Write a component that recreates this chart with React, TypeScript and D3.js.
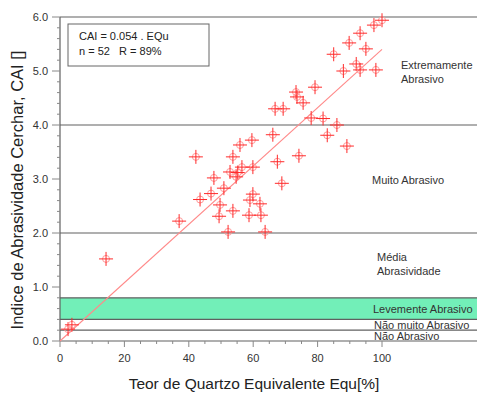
import React from "react";
import * as d3 from "d3";

// quartz equivalent (%) vs CAI
const equ = [
  2.5, 3.7, 14.3, 37, 42.2, 43.5, 46.9, 47.8, 49.4, 49.7, 50.9, 52.2, 52.8,
  53.7, 53.7, 54.7, 55.9, 56.5, 58.7, 59.0, 59.6, 59.9, 59.9, 62.1, 62.4, 63.7,
  66.1, 66.8, 67.5, 68.9, 69.3, 73.3, 73.6, 74.2, 75.5, 78, 79.2, 81.7, 83, 85,
  86, 88, 89.1, 89.8, 92, 93.2, 93.2, 95, 97.5, 98.1, 100, 55.2,
];
const cai = [
  0.22, 0.3, 1.52, 2.22, 3.41, 2.62, 2.73, 3.02, 2.31, 2.52, 2.83, 2.02, 3.13,
  3.41, 2.41, 3.04, 3.63, 3.22, 2.33, 2.61, 3.72, 3.22, 2.72, 2.54, 2.33, 2.02,
  3.82, 4.3, 3.32, 2.92, 4.3, 4.61, 4.52, 3.43, 4.41, 4.13, 4.7, 4.12, 3.81,
  5.31, 4.0, 5.0, 3.61, 5.52, 5.13, 5.7, 5.02, 5.41, 5.85, 5.02, 5.94, 3.12,
];
const slope = 0.054;

const xTicks = [0, 20, 40, 60, 80, 100];
const yTicks = [0, 1, 2, 3, 4, 5, 6];
const classLines = [0, 0.2, 0.4, 0.8, 2, 4, 6];
const band = [0.4, 0.8];

const zones = [
  { lines: ["Extremamente", "Abrasivo"], x: 401, v: 5.12 },
  { lines: ["Muito Abrasivo"], x: 372, v: 2.98 },
  { lines: ["Média", "Abrasividade"], x: 377, v: 1.55 },
  { lines: ["Levemente Abrasivo"], x: 373, v: 0.6 },
  { lines: ["Não muito Abrasivo"], x: 374, v: 0.3 },
  { lines: ["Não Abrasivo"], x: 374, v: 0.09 },
];

export default function App() {
  const W = 478, H = 394;
  const x = d3.scaleLinear().domain([0, 100]).range([60, 382]);
  const y = d3.scaleLinear().domain([0, 6]).range([341, 17]);
  const right = 477;
  const minorY = d3.range(0, 6.01, 0.2);
  const minorX = d3.range(0, 100.1, 5);
  const lineGray = "#606060";
  const red = "#ff2b2b";

  return (
    <svg
      width={W}
      height={H}
      style={{ position: "absolute", left: 0, top: 0, background: "#fff" }}
      fontFamily="Liberation Sans, Arial, sans-serif"
    >
      <rect
        x={x(0)}
        y={y(band[1])}
        width={right - x(0)}
        height={y(band[0]) - y(band[1])}
        fill="#72efb8"
      />
      {classLines.map((v) => (
        <line key={v} x1={x(0)} x2={right} y1={y(v)} y2={y(v)} stroke={lineGray} strokeWidth={1.2} />
      ))}
      <line x1={x(0)} x2={x(0)} y1={y(0)} y2={y(6)} stroke={lineGray} strokeWidth={1.2} />

      {/* y ticks */}
      {minorY.map((v, i) => (
        <line key={i} x1={x(0) - (i % 5 === 0 ? 8 : 3)} x2={x(0)} y1={y(v)} y2={y(v)} stroke="#888" />
      ))}
      {yTicks.map((v) => (
        <text key={v} x={48} y={y(v) + 4} textAnchor="end" fontSize={11} fill="#333">
          {d3.format(".1f")(v)}
        </text>
      ))}
      {/* x ticks */}
      {minorX.map((v, i) => (
        <line key={i} x1={x(v)} x2={x(v)} y1={y(0)} y2={y(0) + (i % 4 === 0 ? 6 : 3)} stroke="#888" />
      ))}
      {xTicks.map((v) => (
        <text key={v} x={x(v)} y={y(0) + 21} textAnchor="middle" fontSize={11} fill="#333">
          {v}
        </text>
      ))}

      {/* regression */}
      <line x1={x(0)} y1={y(0)} x2={x(100)} y2={y(slope * 100)} stroke="#ff8a8a" strokeWidth={1.1} />

      {/* points */}
      {equ.map((e, i) => {
        const cx = x(e), cy = y(cai[i]);
        return (
          <g key={i}>
            <circle cx={cx} cy={cy} r={3.5} fill="none" stroke="#ff9a9a" strokeWidth={1} />
            <line x1={cx - 7} x2={cx + 7} y1={cy} y2={cy} stroke={red} strokeWidth={1} />
            <line x1={cx} x2={cx} y1={cy - 7} y2={cy + 7} stroke={red} strokeWidth={1} />
          </g>
        );
      })}

      {/* zone labels */}
      {zones.map((z, i) =>
        z.lines.map((t, j) => (
          <text key={i + "-" + j} x={z.x} y={y(z.v) + 4 + j * 14} fontSize={11} fill="#333">
            {t}
          </text>
        ))
      )}

      {/* equation box */}
      <rect x={68} y={24} width={141} height={42} fill="#fff" stroke="#666" />
      <text x={79} y={40} fontSize={11} fill="#222">CAI = 0.054 . EQu</text>
      <text x={79} y={55} fontSize={11} fill="#222" xmlSpace="preserve">n = 52   R = 89%</text>

      {/* axis titles */}
      <text x={254} y={389} textAnchor="middle" fontSize={15.5} fill="#222">
        Teor de Quartzo Equivalente Equ[%]
      </text>
      <text
        transform={`translate(23, 190) rotate(-90)`}
        textAnchor="middle"
        fontSize={16.5}
        fill="#222"
      >
        Indice de Abrasividade Cerchar, CAI []
      </text>
    </svg>
  );
}
